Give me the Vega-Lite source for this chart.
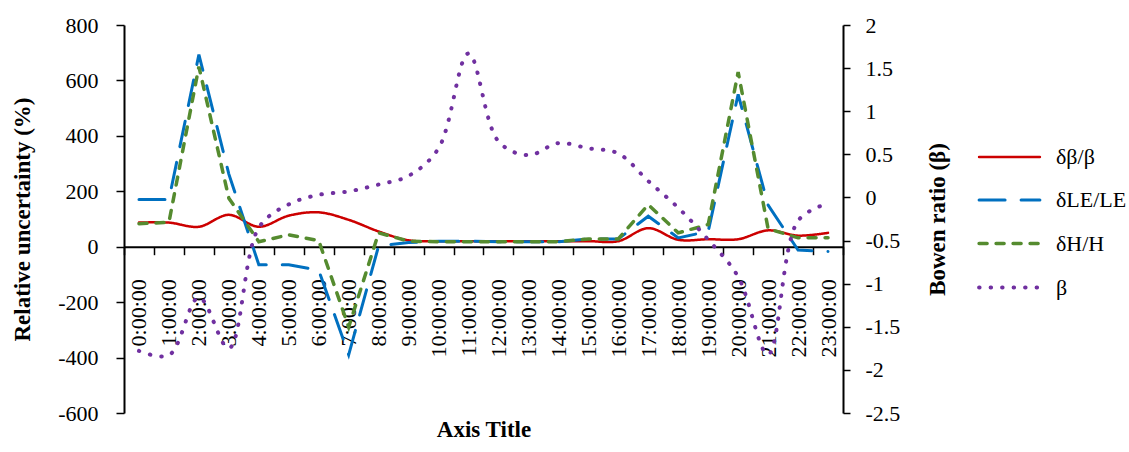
{
  "$schema": "https://vega.github.io/schema/vega-lite/v6.json",
  "width": 719,
  "height": 388,
  "autosize": {"type": "none"},
  "padding": {"left": 124, "top": 25, "right": 286, "bottom": 39},
  "background": "white",
  "config": {
    "font": "Liberation Serif",
    "view": {"stroke": null},
    "line": {"strokeCap": "round"},
    "axis": {
      "labelFont": "Liberation Serif",
      "titleFont": "Liberation Serif",
      "labelColor": "black",
      "titleColor": "black",
      "domainColor": "black",
      "tickColor": "black",
      "labelFontSize": 22,
      "titleFontSize": 23,
      "titleFontWeight": "bold",
      "grid": false,
      "domainWidth": 2,
      "tickWidth": 1.5,
      "tickSize": 8
    },
    "legend": {
      "orient": "none",
      "legendX": 853,
      "legendY": 100,
      "title": null,
      "symbolType": "stroke",
      "symbolSize": 3700,
      "labelFont": "Liberation Serif",
      "labelFontSize": 22,
      "labelColor": "black",
      "labelOffset": 14,
      "rowPadding": 0,
      "labelLimit": 300
    }
  },
  "data": {
    "values": [
      {"time": "0:00:00", "series": "δβ/β", "value": 87},
      {"time": "0:00:00", "series": "δLE/LE", "value": 170},
      {"time": "0:00:00", "series": "δH/H", "value": 83},
      {"time": "0:00:00", "series": "β", "value": -1.78},
      {"time": "1:00:00", "series": "δβ/β", "value": 87},
      {"time": "1:00:00", "series": "δLE/LE", "value": 170},
      {"time": "1:00:00", "series": "δH/H", "value": 88},
      {"time": "1:00:00", "series": "β", "value": -1.83},
      {"time": "2:00:00", "series": "δβ/β", "value": 72},
      {"time": "2:00:00", "series": "δLE/LE", "value": 693},
      {"time": "2:00:00", "series": "δH/H", "value": 650},
      {"time": "2:00:00", "series": "β", "value": -1.16},
      {"time": "3:00:00", "series": "δβ/β", "value": 115},
      {"time": "3:00:00", "series": "δLE/LE", "value": 262},
      {"time": "3:00:00", "series": "δH/H", "value": 175},
      {"time": "3:00:00", "series": "β", "value": -1.75},
      {"time": "4:00:00", "series": "δβ/β", "value": 72},
      {"time": "4:00:00", "series": "δLE/LE", "value": -65},
      {"time": "4:00:00", "series": "δH/H", "value": 18},
      {"time": "4:00:00", "series": "β", "value": -0.35},
      {"time": "5:00:00", "series": "δβ/β", "value": 112},
      {"time": "5:00:00", "series": "δLE/LE", "value": -65},
      {"time": "5:00:00", "series": "δH/H", "value": 43},
      {"time": "5:00:00", "series": "β", "value": -0.08},
      {"time": "6:00:00", "series": "δβ/β", "value": 124},
      {"time": "6:00:00", "series": "δLE/LE", "value": -85},
      {"time": "6:00:00", "series": "δH/H", "value": 22},
      {"time": "6:00:00", "series": "β", "value": 0.03},
      {"time": "7:00:00", "series": "δβ/β", "value": 97},
      {"time": "7:00:00", "series": "δLE/LE", "value": -390},
      {"time": "7:00:00", "series": "δH/H", "value": -290},
      {"time": "7:00:00", "series": "β", "value": 0.07},
      {"time": "8:00:00", "series": "δβ/β", "value": 55},
      {"time": "8:00:00", "series": "δLE/LE", "value": 3},
      {"time": "8:00:00", "series": "δH/H", "value": 50},
      {"time": "8:00:00", "series": "β", "value": 0.15},
      {"time": "9:00:00", "series": "δβ/β", "value": 23},
      {"time": "9:00:00", "series": "δLE/LE", "value": 15},
      {"time": "9:00:00", "series": "δH/H", "value": 20},
      {"time": "9:00:00", "series": "β", "value": 0.25},
      {"time": "10:00:00", "series": "δβ/β", "value": 20},
      {"time": "10:00:00", "series": "δLE/LE", "value": 20},
      {"time": "10:00:00", "series": "δH/H", "value": 18},
      {"time": "10:00:00", "series": "β", "value": 0.57},
      {"time": "11:00:00", "series": "δβ/β", "value": 20},
      {"time": "11:00:00", "series": "δLE/LE", "value": 20},
      {"time": "11:00:00", "series": "δH/H", "value": 18},
      {"time": "11:00:00", "series": "β", "value": 1.67},
      {"time": "12:00:00", "series": "δβ/β", "value": 20},
      {"time": "12:00:00", "series": "δLE/LE", "value": 18},
      {"time": "12:00:00", "series": "δH/H", "value": 18},
      {"time": "12:00:00", "series": "β", "value": 0.65},
      {"time": "13:00:00", "series": "δβ/β", "value": 20},
      {"time": "13:00:00", "series": "δLE/LE", "value": 18},
      {"time": "13:00:00", "series": "δH/H", "value": 18},
      {"time": "13:00:00", "series": "β", "value": 0.49},
      {"time": "14:00:00", "series": "δβ/β", "value": 20},
      {"time": "14:00:00", "series": "δLE/LE", "value": 18},
      {"time": "14:00:00", "series": "δH/H", "value": 18},
      {"time": "14:00:00", "series": "β", "value": 0.63},
      {"time": "15:00:00", "series": "δβ/β", "value": 20},
      {"time": "15:00:00", "series": "δLE/LE", "value": 28},
      {"time": "15:00:00", "series": "δH/H", "value": 28},
      {"time": "15:00:00", "series": "β", "value": 0.57},
      {"time": "16:00:00", "series": "δβ/β", "value": 20},
      {"time": "16:00:00", "series": "δLE/LE", "value": 28},
      {"time": "16:00:00", "series": "δH/H", "value": 28},
      {"time": "16:00:00", "series": "β", "value": 0.51},
      {"time": "17:00:00", "series": "δβ/β", "value": 67},
      {"time": "17:00:00", "series": "δLE/LE", "value": 110},
      {"time": "17:00:00", "series": "δH/H", "value": 152},
      {"time": "17:00:00", "series": "β", "value": 0.19},
      {"time": "18:00:00", "series": "δβ/β", "value": 25},
      {"time": "18:00:00", "series": "δLE/LE", "value": 32},
      {"time": "18:00:00", "series": "δH/H", "value": 50},
      {"time": "18:00:00", "series": "β", "value": -0.12},
      {"time": "19:00:00", "series": "δβ/β", "value": 27},
      {"time": "19:00:00", "series": "δLE/LE", "value": 55},
      {"time": "19:00:00", "series": "δH/H", "value": 80},
      {"time": "19:00:00", "series": "β", "value": -0.49},
      {"time": "20:00:00", "series": "δβ/β", "value": 27},
      {"time": "20:00:00", "series": "δLE/LE", "value": 550},
      {"time": "20:00:00", "series": "δH/H", "value": 630},
      {"time": "20:00:00", "series": "β", "value": -0.92},
      {"time": "21:00:00", "series": "δβ/β", "value": 59},
      {"time": "21:00:00", "series": "δLE/LE", "value": 150},
      {"time": "21:00:00", "series": "δH/H", "value": 65},
      {"time": "21:00:00", "series": "β", "value": -1.82},
      {"time": "22:00:00", "series": "δβ/β", "value": 40},
      {"time": "22:00:00", "series": "δLE/LE", "value": -12},
      {"time": "22:00:00", "series": "δH/H", "value": 32},
      {"time": "22:00:00", "series": "β", "value": -0.27},
      {"time": "23:00:00", "series": "δβ/β", "value": 50},
      {"time": "23:00:00", "series": "δLE/LE", "value": -17},
      {"time": "23:00:00", "series": "δH/H", "value": 32},
      {"time": "23:00:00", "series": "β", "value": -0.07}
    ]
  },
  "encoding": {
    "x": {
      "field": "time",
      "type": "ordinal",
      "sort": null,
      "bandPosition": 0.5,
      "scale": {"type": "band", "paddingInner": 0, "paddingOuter": 0},
      "axis": {
        "title": "Axis Title",
        "labelAngle": 270,
        "labelAlign": "right",
        "labelBaseline": "middle",
        "offset": -166.3,
        "tickBand": "extent",
        "labelPadding": 24,
        "tickSize": 8,
        "titleX": 359.5,
        "titleY": 183,
        "titleBaseline": "middle",
        "titleAlign": "center"
      }
    },
    "color": {
      "field": "series",
      "type": "nominal",
      "scale": {"domain": ["δβ/β", "δLE/LE", "δH/H", "β"], "range": ["#CC0000", "#0070C0", "#558B2F", "#7030A0"]},
      "legend": {"encode": {"symbols": {"update": {"strokeCap": {"value": "round"}}}}}
    },
    "strokeDash": {
      "field": "series",
      "type": "nominal",
      "scale": {"domain": ["δβ/β", "δLE/LE", "δH/H", "β"], "range": [[1, 0], [26, 16], [8, 9], [0.5, 11]]},
      "legend": {"encode": {"symbols": {"update": {"strokeCap": {"value": "round"}}}}}
    },
    "strokeWidth": {
      "field": "series",
      "type": "nominal",
      "scale": {"domain": ["δβ/β", "δLE/LE", "δH/H", "β"], "range": [2.5, 4, 4, 4]},
      "legend": {"encode": {"symbols": {"update": {"strokeCap": {"value": "round"}}}}}
    }
  },
  "layer": [
    {
      "layer": [
        {
          "transform": [{"filter": "datum.series === 'δβ/β'"}],
          "mark": {"type": "line", "interpolate": "catmull-rom"}
        },
        {
          "transform": [{"filter": "datum.series === 'δLE/LE' || datum.series === 'δH/H'"}],
          "mark": {"type": "line"}
        }
      ],
      "encoding": {
        "y": {
          "field": "value",
          "type": "quantitative",
          "scale": {"domain": [-600, 800], "nice": false, "zero": false},
          "axis": {
            "title": "Relative uncertainty (%)",
            "values": [-600, -400, -200, 0, 200, 400, 600, 800],
            "labelExpr": "'' + datum.value",
            "labelPadding": 18,
            "tickSize": 8,
            "titleAngle": 270,
            "titleX": -102,
            "titleY": 194,
            "titleAlign": "center",
            "titleBaseline": "middle"
          }
        }
      }
    },
    {
      "transform": [{"filter": "datum.series === 'β'"}],
      "mark": {"type": "line", "interpolate": "catmull-rom"},
      "encoding": {
        "y": {
          "field": "value",
          "type": "quantitative",
          "scale": {"domain": [-2.5, 2], "nice": false, "zero": false},
          "axis": {
            "orient": "right",
            "title": "Bowen ratio (β)",
            "values": [-2.5, -2, -1.5, -1, -0.5, 0, 0.5, 1, 1.5, 2],
            "labelExpr": "'' + datum.value",
            "labelPadding": 15,
            "tickSize": 7,
            "titleAngle": 270,
            "titleX": 94,
            "titleY": 194,
            "titleAlign": "center",
            "titleBaseline": "middle"
          }
        }
      }
    }
  ],
  "resolve": {"scale": {"y": "independent"}}
}
